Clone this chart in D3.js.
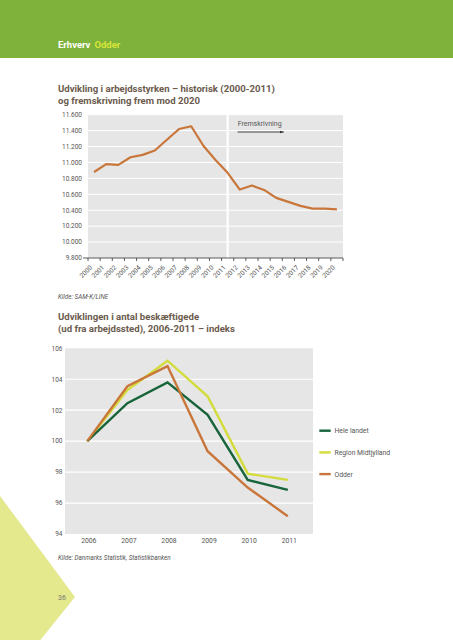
<!DOCTYPE html>
<html><head><meta charset="utf-8">
<script src="https://cdn.jsdelivr.net/npm/d3@7"></script>
<style>
html,body{margin:0;padding:0;background:#fff;}
svg{display:block;font-family:Roboto, "Noto Sans", sans-serif;}
</style></head>
<body>
<svg id="page" width="453" height="640"></svg>
<script>
// ---------- data ----------
const header1 = "Erhverv";
const header2 = "Odder";
const title1 = ["Udvikling i arbejdsstyrken – historisk (2000-2011)", "og fremskrivning frem mod 2020"];
const source1 = "Kilde: SAM-K/LINE";
const title2 = ["Udviklingen i antal beskæftigede", "(ud fra arbejdssted), 2006-2011 – indeks"];
const source2 = "Kilde: Danmarks Statistik, Statistikbanken";
const pageNumber = "36";

const years1 = ["2000","2001","2002","2003","2004","2005","2006","2007","2008","2009","2010",
                "2011","2012","2013","2014","2015","2016","2017","2018","2019","2020"];
const workforce = [10880,10980,10970,11065,11095,11150,11285,11420,11455,11210,11030,
                   10870,10660,10710,10655,10555,10505,10455,10420,10420,10410];
const yTicks1 = [9800,10000,10200,10400,10600,10800,11000,11200,11400,11600];
const forecastStart = "2011";
const forecastLabel = "Fremskrivning";

const years2 = ["2006","2007","2008","2009","2010","2011"];
const seriesNames = ["Hele landet","Region Midtjylland","Odder"];
const heleLandet = [100,102.45,103.8,101.7,97.5,96.85];
const regionMidt = [100,103.3,105.2,102.9,97.9,97.5];
const odder = [100,103.55,104.85,99.35,97.0,95.15];
const yTicks2 = [94,96,98,100,102,104,106];

// ---------- styles ----------
const C = {green:"#7eb23a", lime:"#d8e63c", title:"#6b5a4d", text:"#555", grid:"#e6e6e6",
           orange:"#c8763a", dark:"#17643a", yellow:"#d3dc3a", deco:"#e3e98c"};
const svg = d3.select("#page");

// header band
svg.append("rect").attr("x",0).attr("y",0).attr("width",453).attr("height",58).attr("fill",C.green);
const h = svg.append("text").attr("x",58).attr("y",47.5).attr("font-size",9.5).attr("font-weight",700);
h.append("tspan").attr("fill","#fff").text(header1);
h.append("tspan").attr("fill",C.lime).attr("dx",4).text(header2);

// decoration
svg.append("path").attr("d","M0,496 L75,597 L0,690 Z").attr("fill",C.deco);
svg.append("text").attr("x",58).attr("y",600).attr("font-size",7).attr("fill","#777").text(pageNumber);

// titles
function title(lines, y0){
  lines.forEach((t,i)=>svg.append("text").attr("x",58).attr("y",y0+i*12)
    .attr("font-size",9.6).attr("font-weight",700).attr("fill",C.title).text(t));
}
title(title1, 91.5);
title(title2, 320);

// ---------- chart 1 ----------
const p1 = {l:88, r:343, t:114.7, b:258};
const x1 = d3.scaleBand().domain(years1).range([p1.l,p1.r]);
const y1 = d3.scaleLinear().domain([9800,11600]).range([p1.b,p1.t]);
const g1 = svg.append("g");
g1.append("rect").attr("x",p1.l).attr("y",p1.t).attr("width",p1.r-p1.l).attr("height",p1.b-p1.t).attr("fill",C.grid);
g1.selectAll("line.grid").data(yTicks1.slice(1)).join("line")
  .attr("x1",p1.l).attr("x2",p1.r).attr("y1",d=>y1(d)).attr("y2",d=>y1(d))
  .attr("stroke","#fff").attr("stroke-width",1);
const sepX = x1(forecastStart)+x1.bandwidth()/2;
g1.append("line").attr("x1",sepX).attr("x2",sepX).attr("y1",p1.t).attr("y2",p1.b)
  .attr("stroke","#fff").attr("stroke-width",2.2);
g1.selectAll("text.yl").data(yTicks1).join("text")
  .attr("x",p1.l-6).attr("y",d=>y1(d)+2.3).attr("text-anchor","end")
  .attr("font-size",6.5).attr("fill",C.text).text(d=>d3.format(",")(d).replace(/,/g,"."));
// axis
g1.append("line").attr("x1",p1.l-5).attr("x2",p1.r).attr("y1",p1.b).attr("y2",p1.b).attr("stroke","#333").attr("stroke-width",0.8);
const tickPos = years1.map(d=>x1(d)).concat([x1(years1[years1.length-1])+x1.bandwidth()]);
g1.selectAll("line.tk").data(tickPos).join("line")
  .attr("x1",d=>d).attr("x2",d=>d).attr("y1",p1.b).attr("y2",p1.b+3).attr("stroke","#333").attr("stroke-width",0.8);
g1.selectAll("text.xl").data(years1).join("text")
  .attr("transform",d=>`translate(${x1(d)+x1.bandwidth()/2-1.5},${p1.b+10}) rotate(-45)`)
  .attr("text-anchor","end").attr("font-size",6.5).attr("fill",C.text).text(d=>d);
// line
const line1 = d3.line().x((d,i)=>x1(years1[i])+x1.bandwidth()/2).y(d=>y1(d));
g1.append("path").datum(workforce).attr("d",line1).attr("fill","none")
  .attr("stroke",C.orange).attr("stroke-width",2.2).attr("stroke-linejoin","round");
// forecast label
g1.append("text").attr("x",sepX+10).attr("y",125.5).attr("font-size",7).attr("fill",C.text).text(forecastLabel);
svg.append("defs").append("marker").attr("id","arr").attr("viewBox","0 0 10 10").attr("refX",9).attr("refY",5)
  .attr("markerWidth",5).attr("markerHeight",5).attr("orient","auto")
  .append("path").attr("d","M0,2 L10,5 L0,8 Z").attr("fill","#333");
g1.append("line").attr("x1",sepX+10).attr("x2",sepX+56).attr("y1",132).attr("y2",132)
  .attr("stroke","#333").attr("stroke-width",0.9).attr("marker-end","url(#arr)");
svg.append("text").attr("x",58).attr("y",299).attr("font-size",6.3).attr("font-style","italic").attr("fill",C.text).text(source1);

// ---------- chart 2 ----------
const p2 = {l:65, r:313, t:348.3, b:534};
const x2 = d3.scalePoint().domain(years2).range([87.3,287.8]);
const y2 = d3.scaleLinear().domain([94,106]).range([p2.b,p2.t]);
const g2 = svg.append("g");
g2.append("rect").attr("x",p2.l).attr("y",p2.t).attr("width",p2.r-p2.l).attr("height",p2.b-p2.t).attr("fill",C.grid);
g2.selectAll("line.grid").data(yTicks2.slice(1,-1)).join("line")
  .attr("x1",p2.l).attr("x2",p2.r).attr("y1",d=>y2(d)).attr("y2",d=>y2(d))
  .attr("stroke","#fff").attr("stroke-width",1.2);
g2.selectAll("text.yl").data(yTicks2).join("text")
  .attr("x",62.5).attr("y",d=>y2(d)+2.3).attr("text-anchor","end")
  .attr("font-size",6.5).attr("fill",C.text).text(d=>d);
g2.selectAll("text.xl").data(years2).join("text")
  .attr("x",d=>x2(d)+1.5).attr("y",543).attr("text-anchor","middle")
  .attr("font-size",6.8).attr("fill",C.text).text(d=>d);
const seriesVals = [heleLandet, regionMidt, odder];
const seriesCols = [C.dark, C.yellow, C.orange];
const drawOrder = [1,0,2];
const line2 = d3.line().x((d,i)=>x2(years2[i])).y(d=>y2(d));
drawOrder.forEach(k=>{
  g2.append("path").datum(seriesVals[k]).attr("d",line2).attr("fill","none")
    .attr("stroke",seriesCols[k]).attr("stroke-width",2.4).attr("stroke-linejoin","miter");
});
// legend
seriesNames.forEach((n,i)=>{
  const yy = 430.7 + i*21.7;
  svg.append("line").attr("x1",319.3).attr("x2",330.7).attr("y1",yy).attr("y2",yy)
    .attr("stroke",seriesCols[i]).attr("stroke-width",2.4);
  svg.append("text").attr("x",334.5).attr("y",yy+2.5).attr("font-size",6.8).attr("fill",C.text).text(n);
});
svg.append("text").attr("x",58).attr("y",559.5).attr("font-size",6.3).attr("font-style","italic").attr("fill",C.text).text(source2);
</script>
</body></html>
